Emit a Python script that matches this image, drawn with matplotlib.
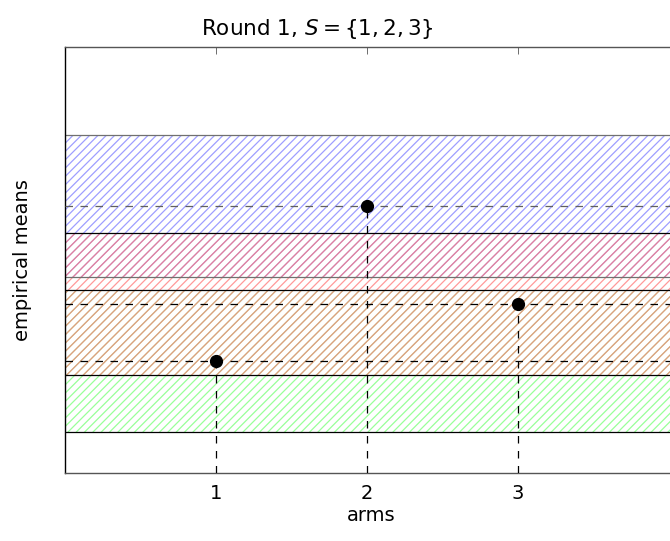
import numpy as np
import matplotlib.pyplot as plt

plt.rcParams['font.family'] = ['DejaVu Sans']
plt.rcParams['mathtext.fontset'] = 'dejavusans'
plt.rcParams['hatch.linewidth'] = 0.9

arms = [1, 2, 3]
means = [0.79, 1.88, 1.19]
half_width = 0.5
band_colors = [(0.6, 1.0, 0.6, 1.0), (0.62, 0.62, 1.0, 1.0), (1.0, 0.45, 0.45, 0.72)]
edge_colors = ['black', '#707070', 'black']
mean_line_colors = ['black', '#606060', 'black']
draw_order = [1, 0, 2]

fig = plt.figure(figsize=(6.7, 5.41), dpi=100)
ax = fig.add_axes([0.097, 0.1257, 0.9128, 0.7874])

# confidence bands, hatched, red one on top
for i in draw_order:
    lo, hi = means[i] - half_width, means[i] + half_width
    ax.axhspan(lo, hi, facecolor='none', edgecolor=band_colors[i],
               hatch='////', linewidth=0, zorder=1)
for i in draw_order:
    lo, hi = means[i] - half_width, means[i] + half_width
    ax.axhline(lo, color=edge_colors[i], lw=0.9, zorder=2)
    ax.axhline(hi, color=edge_colors[i], lw=0.9, zorder=2)

for i in range(len(arms)):
    ax.axhline(means[i], color=mean_line_colors[i], lw=0.9,
               dashes=(6, 6), zorder=3)
    ax.plot([arms[i], arms[i]], [0, means[i]], color='black', lw=0.9,
            dashes=(6, 6), zorder=3)

ax.plot(arms, means, 'o', color='black', markersize=8.5, zorder=4)

ax.set_xlim(0, 4.05)
ax.set_ylim(0, 3.0)
ax.set_xticks(arms)
ax.set_yticks([])
ax.tick_params(axis='x', direction='in', top=True, length=5, width=0.6,
               labelsize=14, pad=8, color='#555555')
ax.spines['left'].set_color('black')
ax.spines['top'].set_color('#555555')
ax.spines['bottom'].set_color('#555555')
for side in ['left', 'top', 'bottom']:
    ax.spines[side].set_linewidth(1.0)

ax.set_xlabel('arms', fontsize=14, labelpad=2)
ax.set_ylabel('empirical means', fontsize=14, labelpad=24)
ax.set_title(r'Round 1, $S = \{1, 2, 3\}$', fontsize=15.5, pad=9, x=0.412)

fig.savefig('out.png', dpi=100)
